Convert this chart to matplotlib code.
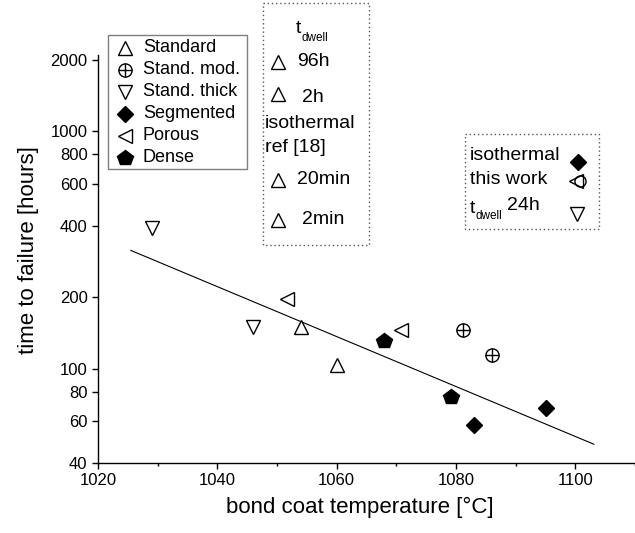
import matplotlib
matplotlib.use("Agg")
import matplotlib.pyplot as plt
from matplotlib.patches import Rectangle
from matplotlib.ticker import FixedLocator, NullLocator

plt.rcParams["font.family"] = ["Liberation Sans", "DejaVu Sans"]

# data (bond coat temperature in °C, time to failure in hours)
standard_x = [1054.1, 1060.0]
standard_y = [150, 104]
stand_mod_x = [1081.1, 1086.1]
stand_mod_y = [145, 114]
stand_thick_x = [1029.0, 1046.0]
stand_thick_y = [391, 150]
segmented_x = [1083.0, 1095.0]
segmented_y = [58, 68]
porous_x = [1051.6, 1070.7]
porous_y = [197, 146]
dense_x = [1068.0, 1079.1]
dense_y = [131, 76]
fit_x = [1025.5, 1103.1]
fit_y = [315, 48]

y_ticks = [40, 60, 80, 100, 200, 400, 600, 800, 1000, 2000]
x_ticks = [1020, 1040, 1060, 1080, 1100]
x_minor = [1030, 1050, 1070, 1090, 1110]

legend_labels = ["Standard", "Stand. mod.", "Stand. thick", "Segmented", "Porous", "Dense"]
dwell_labels = ["96h", "2h", "20min", "2min"]

W, H = 635, 533
OPEN = dict(mfc="white", mec="black", mew=1.0, ls="none")
FILLED = dict(mfc="black", mec="black", mew=1.0, ls="none")
STYLES = [
    dict(marker="^", ms=10.5, **OPEN),
    None,  # circle with plus, drawn as two markers
    dict(marker="v", ms=10.5, **OPEN),
    dict(marker="D", ms=8.5, **FILLED),
    dict(marker="<", ms=10.5, **OPEN),
    dict(marker="p", ms=11.5, **FILLED),
]


def circle_plus(ax, x, y, **kw):
    ax.plot(x, y, marker="o", ms=9.5, **OPEN, **kw)
    ax.plot(x, y, marker="+", ms=9.5, mec="black", mew=1.0, ls="none", **kw)


fig = plt.figure(figsize=(W / 100, H / 100), dpi=100)
ax = fig.add_axes([98 / W, 70 / H, (W - 98) / W, (463 - 55) / H])

ax.plot(fit_x, fit_y, color="black", lw=0.8)
ax.plot(standard_x, standard_y, **STYLES[0])
circle_plus(ax, stand_mod_x, stand_mod_y)
ax.plot(stand_thick_x, stand_thick_y, **STYLES[2])
ax.plot(segmented_x, segmented_y, **STYLES[3])
ax.plot(porous_x, porous_y, **STYLES[4])
ax.plot(dense_x, dense_y, **STYLES[5])

ax.set_yscale("log")
ax.set_xlim(1020, 1110)
ax.set_ylim(40, 2100)
ax.yaxis.set_major_locator(FixedLocator(y_ticks))
ax.yaxis.set_minor_locator(NullLocator())
ax.set_yticklabels([str(v) for v in y_ticks])
ax.set_xticks(x_ticks)
ax.xaxis.set_minor_locator(FixedLocator(x_minor))
ax.tick_params(which="major", length=4.5, width=1, labelsize=12, direction="out")
ax.tick_params(axis="y", pad=3)
ax.tick_params(axis="x", pad=3)
ax.tick_params(which="minor", length=2.5, width=1, direction="out")
for side in ("top", "right"):
    ax.spines[side].set_visible(False)
for side in ("left", "bottom"):
    ax.spines[side].set_linewidth(1.0)

ax.set_xlabel("bond coat temperature [°C]", fontsize=16, va="center")
ax.xaxis.set_label_coords(360 / W, 1 - 507 / H, transform=fig.transFigure)
ax.set_ylabel("time to failure [hours]", fontsize=16, va="center")
ax.yaxis.set_label_coords(29 / W, 1 - 250 / H, transform=fig.transFigure)

# overlay in pixel coordinates for the legend boxes
ov = fig.add_axes([0, 0, 1, 1], zorder=5)
ov.set_xlim(0, W)
ov.set_ylim(H, 0)
ov.axis("off")
ov.patch.set_alpha(0)

# legend 1
ov.add_patch(Rectangle((108, 35), 139, 134, fill=False, ec="#7f7f7f", lw=1.0))
for i, label in enumerate(legend_labels):
    yy = 48 + 22 * i
    if STYLES[i] is None:
        circle_plus(ov, [125], [yy])
    else:
        ov.plot([125], [yy], **STYLES[i])
    ov.text(143, yy, label, fontsize=13, va="center", ha="left")

dotted = dict(fill=False, ec="#555555", lw=1.0, ls=(0, (1, 2)))

# box 2: t_dwell of reference data
ov.add_patch(Rectangle((263, 3), 106, 242, **dotted))
ov.text(296, 33, "t", fontsize=14, va="baseline", ha="left")
ov.text(301, 41, "dwell", fontsize=8.5, va="baseline", ha="left")
tri = dict(marker="^", ms=10.5, **OPEN)
for txt, tri_y, txt_y, tx in zip(dwell_labels, [62, 94, 180, 220], [61, 98, 180, 220], [297, 302, 297, 302]):
    ov.plot([277.5], [tri_y], **tri)
    ov.text(tx, txt_y, txt, fontsize=14, va="center", ha="left")
ov.text(265, 124, "isothermal", fontsize=14, va="center", ha="left")
ov.text(265, 148, "ref [18]", fontsize=14, va="center", ha="left")

# box 3: this work
ov.add_patch(Rectangle((465, 134), 134, 95, **dotted))
ov.text(470, 155, "isothermal", fontsize=14, va="center", ha="left")
ov.text(470, 179, "this work", fontsize=14, va="center", ha="left")
ov.text(470, 213, "t", fontsize=14, va="baseline", ha="left")
ov.text(476, 219, "dwell", fontsize=8.5, va="baseline", ha="left")
ov.text(507, 205, "24h", fontsize=14, va="center", ha="left")
ov.plot([578], [161.5], **STYLES[3])
ov.plot([580], [180.5], marker="o", ms=8, **OPEN)
ov.plot([576], [180.5], marker="<", ms=10, mfc="none", mec="black", mew=1.0, ls="none")
ov.plot([577], [214], **STYLES[2])

fig.savefig("out.png", dpi=100)
